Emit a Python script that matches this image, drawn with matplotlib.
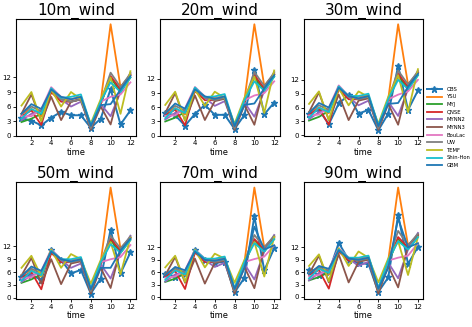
import matplotlib
matplotlib.use('Agg')
import matplotlib.pyplot as plt

# time steps and model names
time = [1, 2, 3, 4, 5, 6, 7, 8, 9, 10, 11, 12]
models = ['OBS', 'YSU', 'MYJ', 'QNSE', 'MYNN2', 'MYNN3', 'BouLac', 'UW', 'TEMF', 'Shin-Hon', 'GBM']
heights = ['10m_wind', '20m_wind', '30m_wind', '50m_wind', '70m_wind', '90m_wind']

wind_10m = {
    'OBS': [3.6, 3.1, 2.1, 3.7, 4.9, 4.2, 4.2, 1.6, 3.5, 9.6, 2.3, 5.2],
    'YSU': [4.5, 5.5, 4.0, 9.5, 7.5, 7.5, 8.0, 2.0, 7.0, 23.0, 10.0, 12.5],
    'MYJ': [2.8, 3.5, 4.5, 9.0, 7.5, 7.0, 7.5, 1.8, 6.5, 12.0, 9.0, 12.0],
    'QNSE': [4.0, 5.2, 2.2, 9.0, 7.0, 7.0, 7.5, 1.5, 6.5, 12.3, 9.5, 12.5],
    'MYNN2': [3.2, 4.5, 5.0, 9.5, 7.5, 6.0, 7.0, 1.8, 6.5, 4.0, 9.0, 13.0],
    'MYNN3': [4.5, 8.5, 3.0, 8.0, 3.2, 7.0, 7.5, 1.2, 6.0, 2.3, 10.0, 12.5],
    'BouLac': [4.0, 4.0, 5.5, 10.0, 8.0, 7.5, 8.0, 2.0, 7.0, 8.0, 8.5, 11.0],
    'UW': [4.5, 6.0, 5.0, 9.5, 7.5, 7.0, 7.5, 1.5, 7.0, 13.0, 10.0, 12.8],
    'TEMF': [6.2, 9.0, 3.0, 9.5, 6.0, 9.0, 7.5, 2.5, 7.5, 12.0, 4.5, 13.3],
    'Shin-Hon': [3.5, 5.5, 4.5, 9.8, 7.8, 8.0, 8.5, 2.2, 7.0, 11.0, 9.0, 12.0],
    'GBM': [4.5, 6.5, 5.5, 9.5, 8.0, 7.5, 8.0, 2.0, 6.3, 6.5, 9.5, 12.3],
}

wind_20m = {
    'OBS': [4.8, 4.3, 2.1, 4.6, 6.5, 4.4, 4.4, 1.4, 4.4, 14.0, 4.5, 7.0],
    'YSU': [4.8, 5.8, 4.5, 10.0, 8.0, 8.0, 8.3, 2.0, 7.5, 23.6, 10.5, 13.0],
    'MYJ': [3.0, 3.8, 5.0, 9.5, 8.0, 7.5, 8.0, 1.8, 7.0, 12.5, 9.5, 12.5],
    'QNSE': [4.3, 5.5, 2.2, 9.5, 7.5, 7.5, 8.0, 1.5, 7.0, 12.8, 10.0, 13.0],
    'MYNN2': [3.4, 4.8, 5.3, 10.0, 8.0, 6.3, 7.3, 1.8, 7.0, 4.0, 9.5, 13.5],
    'MYNN3': [4.8, 9.0, 3.2, 8.5, 3.3, 7.3, 7.8, 1.2, 6.5, 2.3, 10.5, 13.0],
    'BouLac': [4.2, 4.3, 5.8, 10.3, 8.3, 7.8, 8.3, 2.0, 7.5, 8.5, 9.0, 11.5],
    'UW': [4.8, 6.3, 5.3, 10.0, 8.0, 7.5, 8.0, 1.5, 7.5, 13.5, 10.5, 13.3],
    'TEMF': [6.5, 9.3, 3.2, 9.8, 6.3, 9.3, 8.0, 2.5, 8.0, 12.5, 4.8, 13.8],
    'Shin-Hon': [3.7, 5.8, 4.8, 10.2, 8.2, 8.3, 8.8, 2.2, 7.5, 11.5, 9.5, 12.5],
    'GBM': [4.7, 6.8, 5.7, 9.8, 8.3, 7.8, 8.3, 2.0, 6.5, 6.8, 10.0, 12.8],
}

wind_30m = {
    'OBS': [4.7, 5.5, 2.4, 6.9, 8.7, 4.7, 5.5, 1.1, 4.7, 15.0, 5.5, 9.7],
    'YSU': [5.0, 6.0, 4.8, 10.5, 8.3, 8.3, 8.7, 2.0, 7.8, 24.0, 11.0, 13.5],
    'MYJ': [3.2, 4.0, 5.3, 10.0, 8.3, 7.8, 8.3, 1.8, 7.3, 13.0, 10.0, 13.0],
    'QNSE': [4.5, 5.8, 2.3, 10.0, 7.8, 7.8, 8.3, 1.5, 7.3, 13.3, 10.5, 13.5],
    'MYNN2': [3.5, 5.0, 5.5, 10.5, 8.3, 6.5, 7.5, 1.8, 7.3, 4.2, 10.0, 14.0],
    'MYNN3': [5.0, 9.3, 3.3, 8.8, 3.3, 7.5, 8.0, 1.2, 6.8, 2.3, 11.0, 13.5],
    'BouLac': [4.3, 4.5, 6.0, 10.8, 8.5, 8.0, 8.5, 2.0, 7.8, 8.8, 9.5, 12.0],
    'UW': [5.0, 6.5, 5.5, 10.5, 8.3, 7.8, 8.3, 1.5, 7.8, 14.0, 11.0, 13.8],
    'TEMF': [6.8, 9.5, 3.3, 10.2, 6.5, 9.5, 8.3, 2.5, 8.3, 13.0, 5.0, 14.3],
    'Shin-Hon': [3.8, 6.0, 5.0, 10.6, 8.5, 8.5, 9.0, 2.2, 7.8, 12.0, 10.0, 13.0],
    'GBM': [4.8, 7.0, 6.0, 10.3, 8.5, 8.0, 8.5, 2.0, 6.8, 7.0, 10.5, 13.3],
}

wind_50m = {
    'OBS': [4.9, 5.3, 4.2, 11.2, 8.9, 5.7, 6.5, 1.0, 4.5, 15.9, 5.7, 10.6],
    'YSU': [5.3, 6.5, 5.0, 11.0, 8.8, 8.8, 9.3, 2.0, 8.3, 25.7, 11.5, 14.0],
    'MYJ': [3.5, 4.3, 5.5, 10.5, 8.8, 8.3, 8.8, 1.8, 7.8, 13.5, 10.5, 13.5],
    'QNSE': [4.8, 6.0, 2.0, 10.5, 8.3, 8.3, 8.8, 1.5, 7.8, 13.8, 11.0, 14.0],
    'MYNN2': [3.7, 5.3, 5.8, 11.0, 8.8, 7.0, 8.0, 1.8, 7.8, 4.5, 10.5, 14.5],
    'MYNN3': [5.2, 9.3, 3.3, 9.0, 3.2, 8.0, 8.5, 1.0, 7.0, 2.3, 11.5, 14.0],
    'BouLac': [4.5, 4.8, 6.3, 11.3, 9.0, 8.5, 9.0, 2.0, 8.3, 9.0, 9.5, 12.3],
    'UW': [5.3, 6.8, 5.8, 11.0, 8.8, 8.3, 8.8, 1.5, 8.3, 14.5, 11.5, 14.3],
    'TEMF': [7.0, 9.8, 5.0, 11.3, 7.0, 10.2, 9.0, 3.3, 8.8, 13.0, 5.5, 14.0],
    'Shin-Hon': [4.0, 6.3, 5.3, 11.0, 9.0, 9.0, 9.5, 2.2, 8.3, 12.5, 10.5, 13.5],
    'GBM': [5.0, 7.3, 6.3, 10.8, 9.0, 8.5, 9.0, 2.0, 7.0, 7.0, 11.0, 13.8],
}

wind_70m = {
    'OBS': [5.7, 5.0, 5.5, 11.4, 9.0, 8.3, 8.5, 1.2, 4.7, 19.5, 6.5, 11.8],
    'YSU': [5.5, 6.8, 5.3, 11.3, 9.0, 9.0, 9.5, 2.0, 8.5, 26.4, 12.0, 14.5],
    'MYJ': [3.7, 4.5, 5.8, 10.8, 9.0, 8.5, 9.0, 1.8, 8.0, 13.8, 11.0, 14.0],
    'QNSE': [5.0, 6.3, 2.0, 10.8, 8.5, 8.5, 9.0, 1.5, 8.0, 14.0, 11.5, 14.5],
    'MYNN2': [3.8, 5.5, 6.0, 11.3, 9.0, 7.3, 8.3, 1.8, 8.0, 4.3, 11.0, 15.0],
    'MYNN3': [5.3, 9.7, 3.5, 9.3, 3.3, 8.3, 8.8, 0.9, 7.3, 2.2, 12.0, 14.5],
    'BouLac': [4.7, 5.0, 6.5, 11.5, 9.3, 8.8, 9.3, 2.0, 8.5, 9.2, 9.8, 12.5],
    'UW': [5.5, 7.0, 6.0, 11.3, 9.0, 8.5, 9.0, 1.5, 8.5, 15.0, 12.0, 14.8],
    'TEMF': [7.2, 10.0, 3.7, 11.5, 7.2, 10.5, 9.3, 3.5, 9.0, 13.3, 5.0, 14.5],
    'Shin-Hon': [4.2, 6.5, 5.5, 11.3, 9.3, 9.3, 9.8, 2.2, 8.5, 13.0, 11.0, 14.0],
    'GBM': [5.3, 7.3, 6.5, 11.0, 9.0, 8.8, 9.3, 2.0, 7.0, 17.0, 11.5, 12.5],
}

wind_90m = {
    'OBS': [6.4, 5.3, 6.0, 13.1, 9.0, 8.2, 8.0, 1.2, 4.7, 19.8, 8.0, 12.1],
    'YSU': [5.8, 7.0, 5.5, 11.5, 9.3, 9.3, 9.8, 2.0, 8.8, 26.5, 12.5, 15.0],
    'MYJ': [4.0, 4.8, 6.0, 11.0, 9.3, 8.8, 9.3, 1.8, 8.3, 14.0, 11.5, 14.5],
    'QNSE': [5.3, 6.5, 2.0, 11.0, 8.8, 8.8, 9.3, 1.5, 8.3, 14.5, 12.0, 15.0],
    'MYNN2': [4.0, 5.8, 6.3, 11.5, 9.3, 7.5, 8.5, 1.8, 8.3, 4.5, 11.5, 15.5],
    'MYNN3': [5.5, 10.0, 3.5, 10.3, 3.5, 8.5, 9.0, 0.8, 7.5, 2.3, 12.5, 15.0],
    'BouLac': [5.0, 5.3, 6.8, 11.8, 9.5, 9.0, 9.5, 2.0, 8.8, 9.5, 10.0, 13.0],
    'UW': [5.8, 7.3, 6.3, 11.5, 9.3, 8.8, 9.3, 1.5, 8.8, 16.0, 12.5, 15.3],
    'TEMF': [7.5, 10.3, 3.8, 11.8, 7.5, 11.0, 9.5, 3.5, 9.3, 13.5, 5.3, 14.5],
    'Shin-Hon': [4.5, 6.8, 5.8, 11.5, 9.5, 9.5, 10.0, 2.2, 8.8, 13.5, 11.5, 14.5],
    'GBM': [5.5, 7.5, 6.8, 11.3, 9.3, 9.0, 9.5, 2.0, 7.0, 19.0, 12.0, 13.0],
}

all_data = [wind_10m, wind_20m, wind_30m, wind_50m, wind_70m, wind_90m]

fig, axes = plt.subplots(2, 3, figsize=(4.72, 3.27), dpi=100)
plt.subplots_adjust(left=0.034, right=0.897, bottom=0.086, top=0.942,
                    wspace=0.2, hspace=0.40)

for ax, title, data in zip(axes.flat, heights, all_data):
    for name in models:
        if name == 'OBS':
            ax.plot(time, data[name], marker='*', markersize=5, linewidth=1.4, label=name)
        else:
            ax.plot(time, data[name], linewidth=1.3, label=name)
    ax.set_title(title, fontsize=11, pad=3)
    ax.set_xlabel('time', fontsize=6, labelpad=1)
    ax.set_xticks([2, 4, 6, 8, 10, 12])
    ax.set_yticks([0, 3, 6, 9, 12])
    ax.tick_params(labelsize=5, length=2, width=0.6, pad=1.5)
    for s in ax.spines.values():
        s.set_linewidth(0.8)

axes[0, 2].legend(loc='center left', bbox_to_anchor=(1.0, 0.07), fontsize=3.8,
                  handlelength=3, frameon=False, borderaxespad=0.2)

plt.savefig('out.png', dpi=100)
